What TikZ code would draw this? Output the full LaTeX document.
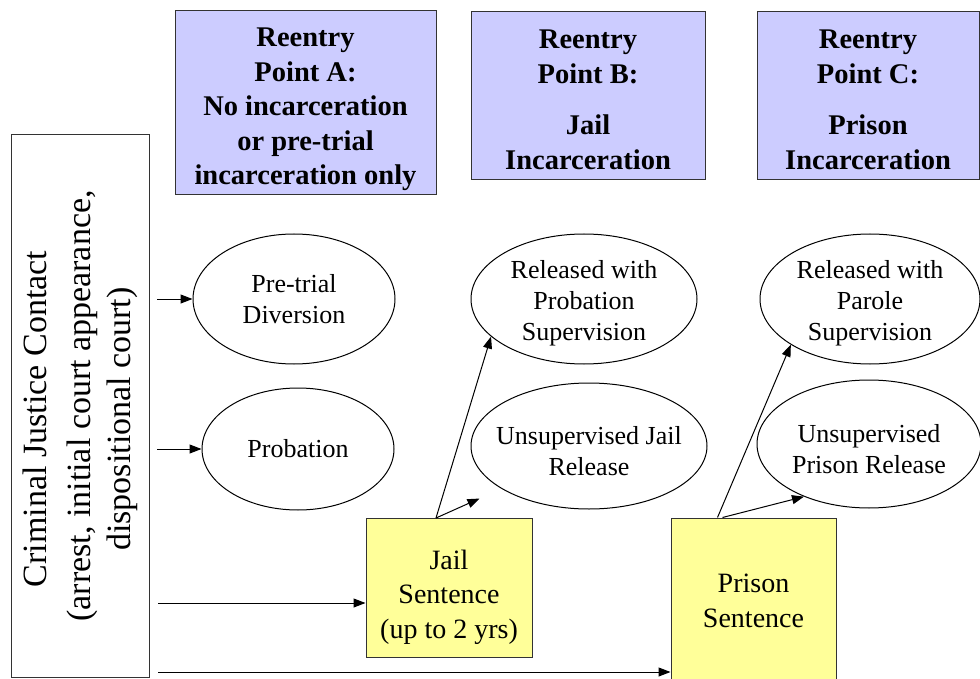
\documentclass[tikz,border=0pt]{standalone}
\usepackage{fontspec}
\setmainfont{Liberation Serif}
\usetikzlibrary{shapes.geometric,arrows.meta}
\definecolor{hdrblue}{RGB}{204,204,255}
\definecolor{sentyellow}{RGB}{255,255,153}
\begin{document}
\begin{tikzpicture}[x=1pt,y=-1pt,
  hdr/.style={draw=black!80,fill=hdrblue,line width=1pt,align=center,inner sep=0pt,
    font=\fontsize{28.5}{34.5}\selectfont\bfseries},
  oval/.style={ellipse,draw,line width=1pt,align=center,inner sep=-12pt,
    font=\fontsize{26}{31}\selectfont},
  sent/.style={draw=black!80,fill=sentyellow,line width=1pt,align=center,inner sep=0pt,
    font=\fontsize{28}{34.5}\selectfont},
  arr/.style={-{Triangle[length=12pt,width=9pt]},line width=1pt}]
\useasboundingbox (0,0) rectangle (980,679);
\node[hdr,minimum width=261,minimum height=184] (ptA) at (305.5,103) {\rule{0pt}{32pt}Reentry\\Point A:\\No incarceration\\or pre-trial\\incarceration only};
\node[hdr,minimum width=234,minimum height=168] (ptB) at (588,96) {\rule{0pt}{26pt}Reentry\\Point B:\\[17pt]Jail\\Incarceration};
\node[hdr,minimum width=222,minimum height=168] (ptC) at (868,96) {\rule{0pt}{26pt}Reentry\\Point C:\\[17pt]Prison\\Incarceration};
\node[draw=black!80,line width=1pt,rotate=90,minimum width=542,minimum height=138,align=center,inner sep=0pt,
  font=\fontsize{34}{40}\selectfont] (cjc) at (80,406)
  {Criminal Justice Contact\hspace*{26pt}\\[4pt](arrest, initial court appearance,\hspace*{26pt}\\dispositional court)\hspace*{26pt}};
\node[oval,minimum width=202,minimum height=130] (divert) at (294,299) {Pre-trial\\Diversion};
\node[oval,minimum width=192,minimum height=122] (probation) at (298,449) {Probation};
\node[oval,minimum width=226,minimum height=130] (relprob) at (584,299) {\rule{0pt}{27pt}Released with\\Probation\\Supervision};
\node[oval,minimum width=236,minimum height=126] (unsupjail) at (589,446) {\rule{0pt}{28pt}Unsupervised Jail\\Release};
\node[oval,minimum width=220,minimum height=130] (relparole) at (870,299) {\rule{0pt}{27pt}Released with\\Parole\\Supervision};
\node[oval,minimum width=224,minimum height=128] (unsupprison) at (869,444) {\rule{0pt}{29pt}Unsupervised\\Prison Release};
\node[sent,minimum width=166,minimum height=139] (jail) at (449,588) {\rule{0pt}{38pt}Jail\\Sentence\\(up to 2 yrs)};
\node[sent,minimum width=165,minimum height=166] (prison) at (753.5,601) {Prison\\Sentence};
\coordinate (s1) at (157,299);
\coordinate (s2) at (157,449);
\coordinate (s3) at (158,603);
\coordinate (s4) at (158,672);
\draw[arr] (s1) -- (divert.west);
\draw[arr] (s2) -- (probation.west);
\draw[arr] (s3) -- (s3 -| jail.west);
\draw[arr] (s4) -- (s4 -| prison.west);
\draw[arr] ([xshift=-13pt]jail.north) -- (relprob.202);
\draw[arr,shorten >=24pt] ([xshift=-13pt]jail.north) -- (unsupjail.206);
\draw[arr] ([xshift=-36pt]prison.north) -- (relparole.210);
\draw[arr] ([xshift=-31pt]prison.north) -- (unsupprison.219);
\end{tikzpicture}
\end{document}
